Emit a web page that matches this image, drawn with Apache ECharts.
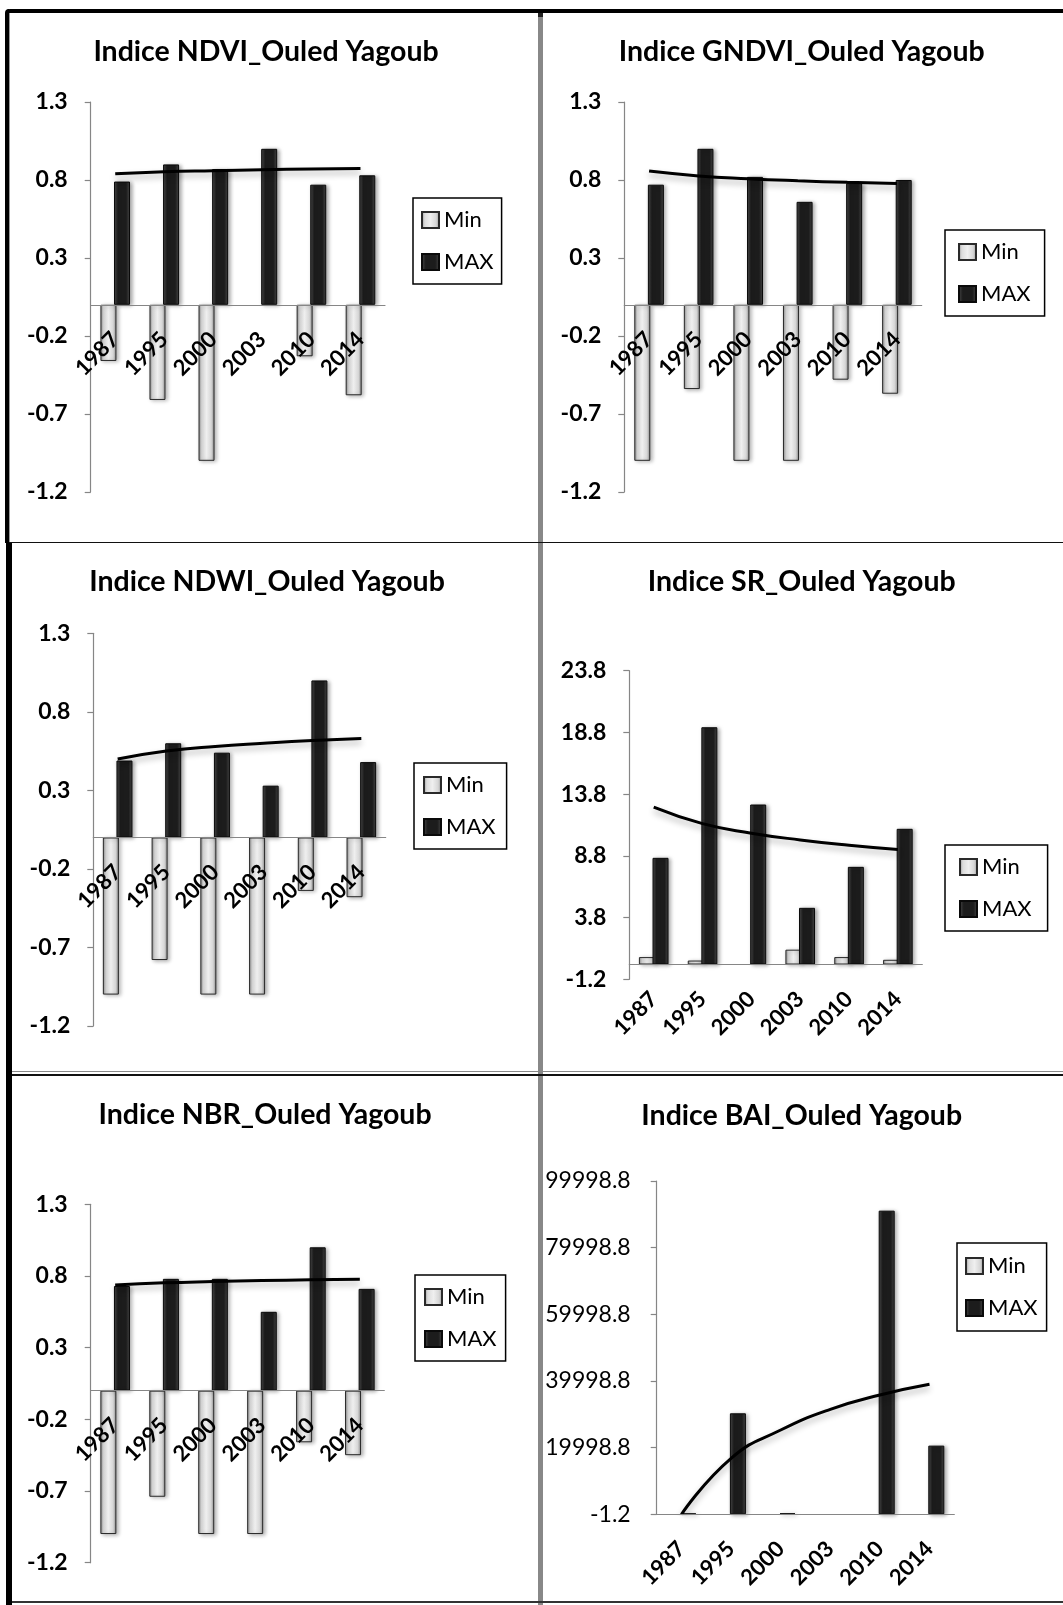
<!DOCTYPE html>
<html>
<head>
<meta charset="utf-8">
<script src="https://cdn.jsdelivr.net/npm/echarts@6.0.0/dist/echarts.min.js"></script>
<style>
html, body { margin: 0; padding: 0; background: #fff; }
#page { position: relative; width: 1063px; height: 1605px; overflow: hidden; background: #fff; }
.panel { position: absolute; width: 533px; height: 535px; }
.ln { position: absolute; }
</style>
</head>
<body>
<div id="page">
	<div class="panel" id="p1" style="left:0;top:0"></div>
	<div class="panel" id="p2" style="left:530px;top:0"></div>
	<div class="panel" id="p3" style="left:0;top:535px"></div>
	<div class="panel" id="p4" style="left:530px;top:535px"></div>
	<div class="panel" id="p5" style="left:0;top:1070px"></div>
	<div class="panel" id="p6" style="left:530px;top:1070px"></div>

	<!-- cadre -->
	<div class="ln" style="left:6px;top:9px;width:1057px;height:4px;background:#000;border-top-left-radius:4px"></div>
	<div class="ln" style="left:5px;top:9px;width:4px;height:534px;background:#000;border-top-left-radius:4px"></div>
	<div class="ln" style="left:9px;top:13px;width:1px;height:530px;background:#999"></div>
	<div class="ln" style="left:6px;top:543px;width:6px;height:1062px;background:#000"></div>
	<div class="ln" style="left:538px;top:13px;width:5px;height:1592px;background:#888"></div>
	<div class="ln" style="left:538px;top:13px;width:5px;height:4px;background:#222"></div>
	<div class="ln" style="left:9px;top:542px;width:1054px;height:1px;background:#111"></div>
	<div class="ln" style="left:12px;top:1071px;width:1051px;height:1px;background:#888"></div>
	<div class="ln" style="left:12px;top:1074px;width:1051px;height:2px;background:#111"></div>
	<div class="ln" style="left:12px;top:1601px;width:1051px;height:2px;background:#333"></div>
</div>
<script>
var FONT = 'Lato';

var years = ['1987', '1995', '2000', '2003', '2010', '2014'];

// NDVI
var ndviMin = [-0.36, -0.61, -1.0, null, -0.33, -0.58];
var ndviMax = [0.79, 0.90, 0.87, 1.0, 0.77, 0.83];
var ndviTrend = [0.840, 0.853, 0.860, 0.866, 0.870, 0.873];

// GNDVI
var gndviMin = [-1.0, -0.54, -1.0, -1.0, -0.48, -0.57];
var gndviMax = [0.77, 1.0, 0.82, 0.66, 0.78, 0.80];
var gndviTrend = [0.857, 0.826, 0.808, 0.795, 0.785, 0.777];

// NDWI
var ndwiMin = [-1.0, -0.78, -1.0, -1.0, -0.34, -0.38];
var ndwiMax = [0.49, 0.60, 0.54, 0.33, 1.0, 0.48];
var ndwiTrend = [0.50, 0.55, 0.58, 0.60, 0.617, 0.63];

// SR
var srMin = [0.6, 0.32, null, 1.2, 0.6, 0.38];
var srMax = [8.64, 19.22, 12.96, 4.59, 7.91, 10.99];
var srTrend = [12.74, 11.41, 10.64, 10.09, 9.66, 9.31];

// NBR
var nbrMin = [-1.0, -0.74, -1.0, -1.0, -0.36, -0.45];
var nbrMax = [0.73, 0.78, 0.78, 0.55, 1.0, 0.71];
var nbrTrend = [0.737, 0.752, 0.761, 0.768, 0.773, 0.777];

// BAI
var baiMin = [null, null, null, null, null, null];
var baiMax = [250, 30300, 300, null, 91100, 20600];
var baiTrend = [0, 16800, 25300, 31500, 35800, 39000];

// graduations
var ticksIndice = [-1.2, -0.7, -0.2, 0.3, 0.8, 1.3];
var ticksSR = [-1.2, 3.8, 8.8, 13.8, 18.8, 23.8];
var ticksBAI = [-1.2, 19998.8, 39998.8, 59998.8, 79998.8, 99998.8];

var panels = [
	{ id: 'p1', title: 'Indice NDVI_Ouled Yagoub', min: ndviMin, max: ndviMax, trend: ndviTrend, ticks: ticksIndice,
	  titlePos: [266, 52.5], grid: [90.7, 102, 294.3, 390], legend: [413, 198], legendPad: [9, 8, 9, 8], boldY: true, yMargin: 23 },
	{ id: 'p2', title: 'Indice GNDVI_Ouled Yagoub', min: gndviMin, max: gndviMax, trend: gndviTrend, ticks: ticksIndice,
	  titlePos: [271.7, 52.5], grid: [94.3, 102, 297.4, 390], legend: [415, 230], legendPad: [9, 14, 9, 13], boldY: true, yMargin: 23 },
	{ id: 'p3', title: 'Indice NDWI_Ouled Yagoub', min: ndwiMin, max: ndwiMax, trend: ndwiTrend, ticks: ticksIndice,
	  titlePos: [267, 47.8], grid: [93.3, 98.3, 292.4, 392.7], legend: [414, 228], legendPad: [9, 11, 9, 9], boldY: true, yMargin: 23 },
	{ id: 'p4', title: 'Indice SR_Ouled Yagoub', min: srMin, max: srMax, trend: srTrend, ticks: ticksSR,
	  titlePos: [271.7, 47.5], grid: [99.3, 135.7, 293, 308.6], legend: [415, 310], legendPad: [9, 16, 9, 14], boldY: true, yMargin: 23 },
	{ id: 'p5', title: 'Indice NBR_Ouled Yagoub', min: nbrMin, max: nbrMax, trend: nbrTrend, ticks: ticksIndice,
	  titlePos: [265, 45], grid: [90.7, 134.3, 293.6, 358.4], legend: [415, 205], legendPad: [9, 9, 9, 9], boldY: true, yMargin: 23 },
	{ id: 'p6', title: 'Indice BAI_Ouled Yagoub', min: baiMin, max: baiMax, trend: baiTrend, ticks: ticksBAI,
	  titlePos: [271.7, 46.7], grid: [126.7, 111, 297.6, 333.3], legend: [427, 173], legendPad: [10, 9, 10, 8], boldY: false, yMargin: 26 }
];

var minStyle = {
	color: new echarts.graphic.LinearGradient(0, 0, 1, 0, [
		{ offset: 0, color: '#8c8c8c' },
		{ offset: 0.2, color: '#dcdcdc' },
		{ offset: 0.5, color: '#efefef' },
		{ offset: 0.8, color: '#d6d6d6' },
		{ offset: 1, color: '#8c8c8c' }
	]),
	borderColor: '#2a2a2a',
	borderWidth: 1,
	shadowBlur: 4,
	shadowOffsetX: 2,
	shadowOffsetY: 1,
	shadowColor: 'rgba(0,0,0,0.3)'
};

var maxStyle = {
	color: new echarts.graphic.LinearGradient(0, 0, 1, 0, [
		{ offset: 0, color: '#4d4d4d' },
		{ offset: 0.25, color: '#1c1c1c' },
		{ offset: 0.75, color: '#1c1c1c' },
		{ offset: 1, color: '#474747' }
	]),
	borderColor: '#0a0a0a',
	borderWidth: 1,
	shadowBlur: 4,
	shadowOffsetX: 2,
	shadowOffsetY: 1,
	shadowColor: 'rgba(0,0,0,0.35)'
};

function makeChart(p) {
	var chart = echarts.init(document.getElementById(p.id));
	var axisColor = '#868686';
	var yMin = p.ticks[0];
	var yMax = p.ticks[p.ticks.length - 1];
	// l'axe des catégories passe par zéro (étiquettes comprises)
	var zeroOffset = -p.grid[3] * (0 - yMin) / (yMax - yMin);
	chart.setOption({
		animation: false,
		title: {
			text: p.title,
			left: p.titlePos[0],
			top: p.titlePos[1] - 15,
			textAlign: 'center',
			padding: 0,
			textStyle: { fontFamily: FONT, fontSize: 28.5, fontWeight: 'bold', color: '#000' }
		},
		legend: {
			data: ['Min', 'MAX'],
			orient: 'vertical',
			left: p.legend[0],
			top: p.legend[1],
			padding: p.legendPad,
			itemGap: 16,
			itemWidth: 17,
			itemHeight: 16,
			icon: 'rect',
			borderColor: '#000',
			borderWidth: 1.5,
			textStyle: { fontFamily: FONT, fontSize: 22, color: '#000', lineHeight: 26 }
		},
		grid: {
			left: p.grid[0], top: p.grid[1], width: p.grid[2], height: p.grid[3],
			outerBoundsMode: 'none'
		},
		xAxis: {
			type: 'category',
			data: years,
			z: 5,
			position: 'bottom',
			offset: zeroOffset,
			axisLine: { onZero: false, lineStyle: { color: axisColor, width: 1.2 } },
			axisTick: { length: 8, lineStyle: { color: axisColor, width: 1.2 } },
			axisLabel: { rotate: 45, margin: 31, interval: 0, fontFamily: FONT, fontSize: 22, fontWeight: 'bold', color: '#000' }
		},
		yAxis: {
			type: 'value',
			min: yMin,
			max: yMax,
			splitLine: { show: false },
			axisLine: { show: true, lineStyle: { color: axisColor, width: 1.2 } },
			axisTick: { show: true, length: 6, customValues: p.ticks, lineStyle: { color: axisColor, width: 1.2 } },
			axisLabel: {
				customValues: p.ticks,
				formatter: function(v) { return v.toFixed(1); },
				margin: p.yMargin,
				fontFamily: FONT,
				fontSize: 23,
				fontWeight: p.boldY ? 'bold' : 'normal',
				color: '#000'
			}
		},
		series: [
			{ name: 'Min', type: 'bar', data: p.min, barWidth: 16, barGap: '-15%', itemStyle: minStyle },
			{ name: 'MAX', type: 'bar', data: p.max, barWidth: 16, itemStyle: maxStyle },
			{
				name: 'tendance', type: 'line', data: p.trend, smooth: true, symbol: 'none', z: 4,
				lineStyle: { color: '#000', width: 3, shadowBlur: 6, shadowOffsetY: 4, shadowColor: 'rgba(0,0,0,0.3)' }
			}
		]
	});
	return chart;
}

for (var i = 0; i < panels.length; i++) {
	makeChart(panels[i]);
}
</script>
</body>
</html>
